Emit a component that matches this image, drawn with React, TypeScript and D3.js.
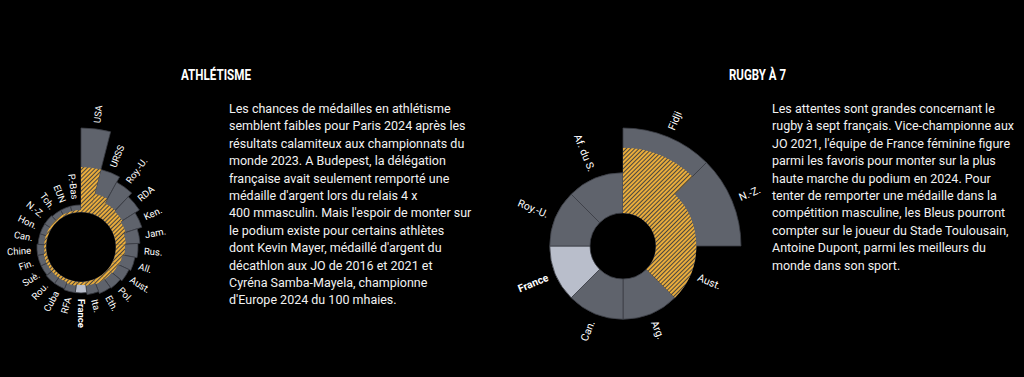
import * as React from "react";
import * as d3 from "d3";

// athlétisme : médailles (total / or) par pays
const athCountries = ["USA", "URSS", "Roy.-U.", "RDA", "Ken.", "Jam.", "Rus.", "All.", "Aust.", "Pol.", "Eth.", "Ita.", "France", "RFA", "Cuba", "Rou.", "Suè.", "Fin.", "Chine", "Can.", "Hon.", "N.-Z.", "Tch.", "EUN", "P.-Bas"];
const athTotal = [830, 332, 273, 227, 184, 145, 130, 115, 102, 88, 82, 69, 57, 57, 51, 51, 46, 46, 46, 40, 40, 40, 35, 35, 35];
const athGold = [332, 115, 82, 75, 63, 51, 46, 35, 29, 24, 24, 19, 14, 19, 14, 14, 14, 14, 9, 9, 9, 9, 9, 9, 9];

// rugby à 7
const rugCountries = ["Fidji", "N.-Z.", "Aust.", "Arg.", "Can.", "France", "Roy.-U.", "Af. du S."];
const rugTotal = [3, 3, 1, 1, 1, 1, 1, 1];
const rugGold = [2, 1, 1, 0, 0, 0, 0, 0];

const athText = [
  "Les chances de médailles en athlétisme",
  "semblent faibles pour Paris 2024 après les",
  "résultats calamiteux aux championnats du",
  "monde 2023. A Budepest, la délégation",
  "française avait seulement remporté une",
  "médaille d'argent lors du relais 4 x",
  "400 mmasculin. Mais l'espoir de monter sur",
  "le podium existe pour certains athlètes",
  "dont Kevin Mayer, médaillé d'argent du",
  "décathlon aux JO de 2016 et 2021 et",
  "Cyréna Samba-Mayela, championne",
  "d'Europe 2024 du 100 mhaies.",
];

const rugText = [
  "Les attentes sont grandes concernant le",
  "rugby à sept français. Vice-championne aux",
  "JO 2021, l'équipe de France féminine figure",
  "parmi les favoris pour monter sur la plus",
  "haute marche du podium en 2024. Pour",
  "tenter de remporter une médaille dans la",
  "compétition masculine, les Bleus pourront",
  "compter sur le joueur du Stade Toulousain,",
  "Antoine Dupont, parmi les meilleurs du",
  "monde dans son sport.",
];

const GREY = "#5f636c";
const LIGHT = "#b9becb";
const SEP = "#3b3e45";

const Polar = (props) => {
  const { cx, cy, names, totals, golds, inner, outer, max, fontSize, offset, highlight } = props;
  const x = d3.scaleBand().domain(names).range([0, 2 * Math.PI]);
  const y = d3.scaleRadial().domain([0, max]).range([inner, outer]);
  const bw = x.bandwidth();

  const arc = (name, v) =>
    d3.arc()({
      innerRadius: inner,
      outerRadius: y(v),
      startAngle: x(name),
      endAngle: x(name) + bw,
    });

  return (
    <g transform={`translate(${cx},${cy})`}>
      {names.map((n, i) => (
        <path key={"t" + n} d={arc(n, totals[i])} fill={n === highlight ? LIGHT : GREY} stroke={SEP} strokeWidth={0.8} />
      ))}
      {names.map((n, i) =>
        golds[i] > 0 ? <path key={"g" + n} d={arc(n, golds[i])} fill="url(#hatch)" /> : null
      )}
      {names.map((n, i) => {
        const a = ((x(n) + bw / 2) * 180) / Math.PI;
        const r = y(totals[i]) + offset;
        const left = a > 180.5;
        return (
          <text
            key={"l" + n}
            transform={`rotate(${a - 90}) translate(${r},0)` + (left ? " rotate(180)" : "")}
            textAnchor={left ? "end" : "start"}
            dominantBaseline="central"
            fontSize={fontSize}
            fontWeight={n === highlight ? "bold" : "normal"}
            fill="#ffffff"
          >
            {n}
          </text>
        );
      })}
    </g>
  );
};

export default function App() {
  const width = 1024;
  const height = 377;
  const bodyFont = "Roboto, 'Liberation Sans', sans-serif";
  const titleFont = "'Roboto', 'Liberation Sans', sans-serif";

  return (
    <svg width={width} height={height} style={{ position: "absolute", left: 0, top: 0 }} fontFamily={bodyFont}>
      <defs>
        <pattern id="hatch" width={3} height={3} patternUnits="userSpaceOnUse" patternTransform="rotate(45)">
          <rect width={3} height={3} fill="#4a4640" />
          <line x1={1} y1={0} x2={1} y2={3} stroke="#f2b23a" strokeWidth={1.9} />
        </pattern>
      </defs>
      <rect width={width} height={height} fill="#000000" />

      <text x={181} y={80} fontFamily={titleFont} fontWeight="bold" fontSize={15.5} fill="#ffffff"
        textLength={70} lengthAdjust="spacingAndGlyphs">ATHLÉTISME</text>
      <text x={729} y={80} fontFamily={titleFont} fontWeight="bold" fontSize={15.5} fill="#ffffff"
        textLength={57} lengthAdjust="spacingAndGlyphs">RUGBY À 7</text>

      <text x={229} y={113} fontSize={12.5} fill="#f2f2f2">
        {athText.map((l, i) => (
          <tspan key={i} x={229} dy={i === 0 ? 0 : 17.4}>{l}</tspan>
        ))}
      </text>
      <text x={772} y={113} fontSize={12.5} fill="#f2f2f2">
        {rugText.map((l, i) => (
          <tspan key={i} x={772} dy={i === 0 ? 0 : 17.4}>{l}</tspan>
        ))}
      </text>

      <Polar cx={81} cy={247} names={athCountries} totals={athTotal} golds={athGold}
        inner={35} outer={119} max={830} fontSize={9.5} offset={6} highlight="France" />
      <Polar cx={623} cy={246} names={rugCountries} totals={rugTotal} golds={rugGold}
        inner={33} outer={118} max={3} fontSize={10.5} offset={8} highlight="France" />
    </svg>
  );
}
